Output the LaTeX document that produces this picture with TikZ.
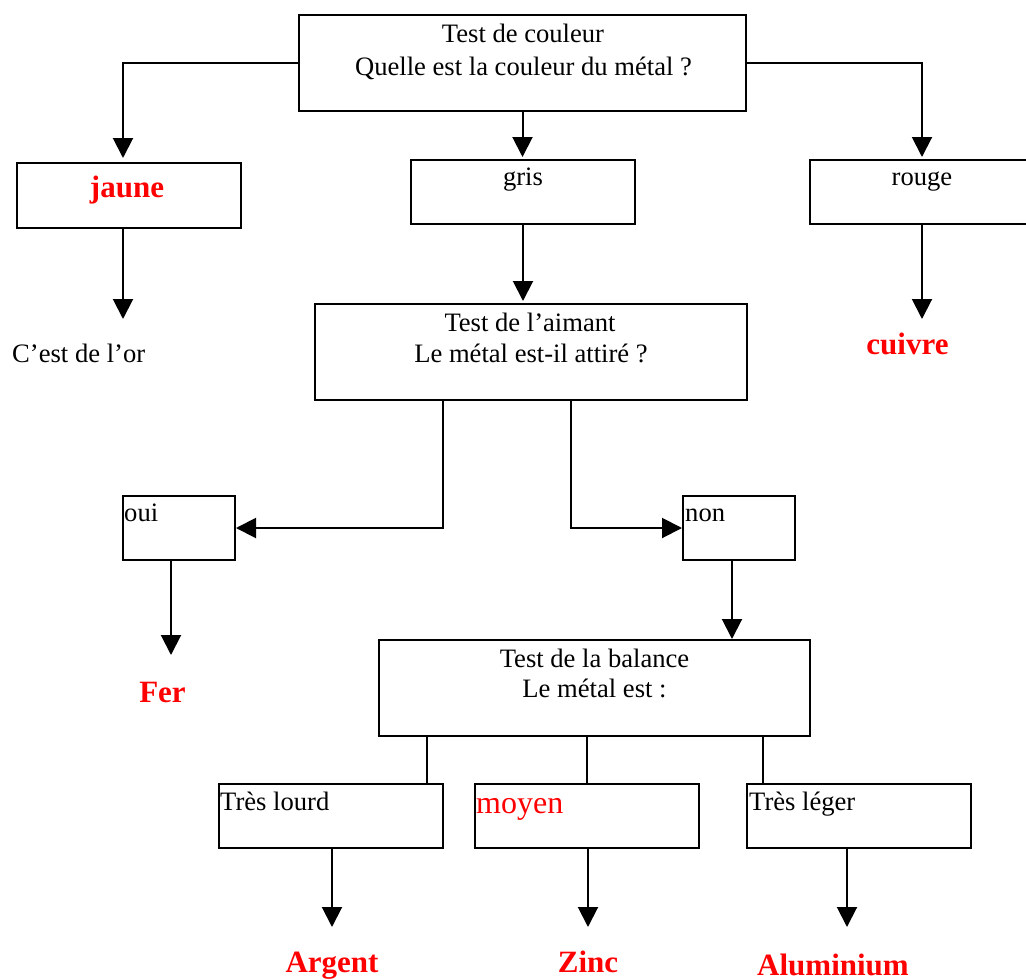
\documentclass[tikz,border=0pt]{standalone}
\usepackage{fontspec}
\setmainfont{Liberation Serif}
\usetikzlibrary{arrows.meta}
\begin{document}
\begin{tikzpicture}[x=1pt,y=-1pt,
  box/.style={draw,line width=2pt,inner sep=0pt,rectangle},
  txt/.style={anchor=base,inner sep=0pt,font=\fontsize{26.6}{32}\selectfont},
  txtl/.style={anchor=base west,inner sep=0pt,font=\fontsize{26.6}{32}\selectfont},
  res/.style={anchor=base,inner sep=0pt,text=red,font=\fontsize{31}{36}\selectfont\bfseries},
  arr/.style={line width=2pt,-{Triangle[length=20pt,width=20pt]}},
  ln/.style={line width=2pt}]
\useasboundingbox (0,0) rectangle (1026,980);

% boxes
\node[box,minimum width=447pt,minimum height=96pt] (top) at (522.5,63) {};
\node[box,minimum width=224pt,minimum height=65pt] (jaune) at (129,195.5) {};
\node[box,minimum width=224pt,minimum height=64pt] (gris) at (523,192) {};
\node[box,minimum width=224pt,minimum height=64pt] (rouge) at (922,192) {};
\node[box,minimum width=432pt,minimum height=96pt] (aimant) at (531,352) {};
\node[box,minimum width=112pt,minimum height=64pt] (oui) at (179,528) {};
\node[box,minimum width=112pt,minimum height=64pt] (non) at (739,528) {};
\node[box,minimum width=431pt,minimum height=96pt] (balance) at (594.5,688) {};
\node[box,minimum width=224pt,minimum height=64pt] (lourd) at (331,816) {};
\node[box,minimum width=224pt,minimum height=64pt] (moyen) at (587,816) {};
\node[box,minimum width=224pt,minimum height=64pt] (leger) at (859,816) {};

% texts
\node[txt] (t1a) at (523,42) {Test de couleur};
\node[txt] (t1b) at (523.5,75) {Quelle est la couleur du métal ?};
\node[res] (tj) at (127,197) {jaune};
\node[txt] (tg) at (523,185) {gris};
\node[txt] (tr) at (922,185) {rouge};
\node[txtl] (tor) at (12,362) {C’est de l’or};
\node[res] (tcu) at (907.5,354) {cuivre};
\node[txt] (t2a) at (530,331) {Test de l’aimant};
\node[txt] (t2b) at (531,362) {Le métal est-il attiré ?};
\node[txtl] (toui) at (124,521) {oui};
\node[txtl] (tnon) at (685,521) {non};
\node[res] (tfer) at (162.5,702) {Fer};
\node[txt] (t3a) at (594.5,667) {Test de la balance};
\node[txt] (t3b) at (594.5,697) {Le métal est :};
\node[txtl] (tlo) at (220,810) {Très lourd};
\node[anchor=base west,inner sep=0pt,text=red,font=\fontsize{32}{36}\selectfont] (tmo) at (476,813) {moyen};
\node[txtl] (tle) at (749,810) {Très léger};
\node[res] (targ) at (332,972) {Argent};
\node[res] (tzn) at (588,972) {Zinc};
\node[res] (tal) at (833,975) {Aluminium};

% tip coordinates
\coordinate (orTip) at (123,319);
\coordinate (cuTip) at (922,319);
\coordinate (ferTip) at (171,655);
\coordinate (agTip) at (332,927);
\coordinate (znTip) at (588,927);
\coordinate (alTip) at (847,927);

% connectors
\draw[arr,shorten >=4pt] (top.west) -| ([xshift=-6pt]jaune.north);
\draw[arr,shorten >=2pt] (top.south) -- (top.south |- gris.north);
\draw[arr,shorten >=2pt] (top.east) -| (rouge.north);
\draw[arr] (jaune.south -| orTip) -- (orTip);
\draw[arr] (rouge.south) -- (cuTip);
\draw[arr,shorten >=2pt] (gris.south) -- (gris.south |- aimant.north);
\draw[arr] ([xshift=-88pt]aimant.south) |- (oui.east);
\draw[arr] ([xshift=40pt]aimant.south) |- (non.west);
\draw[arr] (oui.south -| ferTip) -- (ferTip);
\draw[arr] ([xshift=-7pt]non.south) -- ([xshift=-7pt]non.south |- balance.north);
\draw[ln] ([xshift=-167.5pt]balance.south) -- ([xshift=-167.5pt]balance.south |- lourd.north);
\draw[ln] ([xshift=-7.5pt]balance.south) -- ([xshift=-7.5pt]balance.south |- moyen.north);
\draw[ln] ([xshift=168.5pt]balance.south) -- ([xshift=168.5pt]balance.south |- leger.north);
\draw[arr] (lourd.south -| agTip) -- (agTip);
\draw[arr] (moyen.south -| znTip) -- (znTip);
\draw[arr] (leger.south -| alTip) -- (alTip);
\end{tikzpicture}
\end{document}
